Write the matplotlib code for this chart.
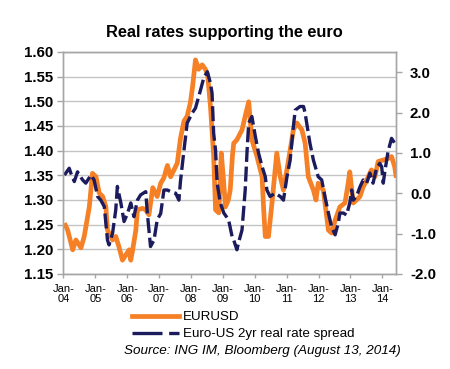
import matplotlib
matplotlib.use('Agg')
import matplotlib.pyplot as plt
from matplotlib.lines import Line2D

plt.rcParams['font.family'] = ['Liberation Sans', 'DejaVu Sans']

# EURUSD (left axis), time as decimal years
eur_t = [2004.03, 2004.13, 2004.29, 2004.39, 2004.55, 2004.65, 2004.81, 2004.91,
         2005.02, 2005.12, 2005.23, 2005.33, 2005.38, 2005.54, 2005.64, 2005.74,
         2005.85, 2005.95, 2006.06, 2006.11, 2006.16, 2006.27, 2006.32, 2006.48,
         2006.58, 2006.68, 2006.80, 2006.94, 2007.05, 2007.15, 2007.26, 2007.36,
         2007.46, 2007.57, 2007.67, 2007.78, 2007.88, 2007.98, 2008.05, 2008.14,
         2008.24, 2008.35, 2008.45, 2008.52, 2008.61, 2008.71, 2008.77, 2008.87,
         2008.95, 2009.02, 2009.08, 2009.17, 2009.23, 2009.30, 2009.34, 2009.44,
         2009.60, 2009.70, 2009.81, 2009.91, 2010.07, 2010.23, 2010.28, 2010.33,
         2010.43, 2010.54, 2010.69, 2010.80, 2010.90, 2011.06, 2011.21, 2011.32,
         2011.48, 2011.58, 2011.68, 2011.84, 2011.92, 2011.99, 2012.15, 2012.31,
         2012.41, 2012.52, 2012.67, 2012.83, 2012.93, 2012.98, 2013.09, 2013.19,
         2013.30, 2013.39, 2013.51, 2013.66, 2013.77, 2013.87, 2014.03, 2014.18,
         2014.29, 2014.39, 2014.44]
eur_v = [1.253, 1.239, 1.199, 1.219, 1.203, 1.226, 1.286, 1.354,
         1.347, 1.314, 1.307, 1.286, 1.239, 1.219, 1.226, 1.205,
         1.178, 1.188, 1.199, 1.178, 1.195, 1.239, 1.280, 1.283,
         1.280, 1.270, 1.325, 1.307, 1.334, 1.345, 1.370, 1.347,
         1.360, 1.375, 1.425, 1.460, 1.470, 1.497, 1.530, 1.584,
         1.565, 1.574, 1.565, 1.555, 1.490, 1.390, 1.280, 1.274,
         1.395, 1.340, 1.286, 1.300, 1.320, 1.390, 1.415, 1.422,
         1.442, 1.470, 1.499, 1.422, 1.388, 1.347, 1.280, 1.226,
         1.226, 1.294, 1.395, 1.347, 1.320, 1.381, 1.442, 1.456,
         1.442, 1.415, 1.347, 1.320, 1.300, 1.334, 1.320, 1.239,
         1.233, 1.259, 1.286, 1.294, 1.334, 1.357, 1.294, 1.300,
         1.307, 1.325, 1.340, 1.361, 1.347, 1.378, 1.381, 1.384,
         1.388, 1.367, 1.345]

# Euro-US 2yr real rate spread (right axis)
spr_t = [2004.03, 2004.18, 2004.23, 2004.34, 2004.44, 2004.60, 2004.70, 2004.86,
         2004.96, 2005.07, 2005.17, 2005.28, 2005.38, 2005.43, 2005.54, 2005.64,
         2005.69, 2005.80, 2005.90, 2006.01, 2006.11, 2006.21, 2006.32, 2006.42,
         2006.58, 2006.63, 2006.73, 2006.84, 2006.94, 2007.05, 2007.15, 2007.26,
         2007.36, 2007.52, 2007.62, 2007.67, 2007.78, 2007.88, 2008.04, 2008.14,
         2008.30, 2008.40, 2008.51, 2008.61, 2008.66, 2008.71, 2008.77, 2008.82,
         2008.92, 2009.03, 2009.18, 2009.29, 2009.34, 2009.44, 2009.49, 2009.60,
         2009.70, 2009.76, 2009.81, 2009.91, 2010.02, 2010.12, 2010.23, 2010.33,
         2010.38, 2010.48, 2010.64, 2010.80, 2010.90, 2011.01, 2011.11, 2011.21,
         2011.27, 2011.42, 2011.53, 2011.58, 2011.73, 2011.84, 2011.99, 2012.10,
         2012.20, 2012.31, 2012.41, 2012.52, 2012.62, 2012.67, 2012.78, 2012.88,
         2012.98, 2013.04, 2013.09, 2013.19, 2013.30, 2013.40, 2013.51, 2013.61,
         2013.71, 2013.82, 2013.92, 2013.98, 2014.03, 2014.08, 2014.18, 2014.29,
         2014.39, 2014.44]
spr_v = [0.45, 0.62, 0.50, 0.29, 0.53, 0.33, 0.25, 0.45,
         0.33, -0.08, -0.17, -0.33, -1.16, -1.28, -0.99, -0.41,
         0.17, -0.24, -0.70, -0.50, -0.24, -0.58, -0.17, -0.04,
         0.04, -0.49, -1.32, -1.16, -0.66, -0.50, 0.08, 0.08,
         0.04, 0.00, -0.17, 0.30, 1.07, 1.74, 1.99, 2.11,
         2.56, 2.86, 3.01, 2.73, 2.48, 1.49, 1.07, 0.25,
         -0.24, -0.49, -0.66, -1.08, -1.16, -1.40, -1.23, -0.91,
         0.08, 1.07, 1.74, 1.90, 1.40, 0.99, 0.66, 0.41,
         0.08, -0.08, 0.00, -0.08, -0.17, 0.41, 0.82, 1.65,
         2.06, 2.15, 2.15, 1.98, 1.24, 0.82, 0.41, 0.33,
         -0.08, -0.49, -0.83, -1.03, -0.74, -0.49, -0.49, -0.54,
         -0.24, 0.08, -0.17, -0.08, 0.16, 0.33, 0.25, 0.50,
         0.25, 0.62, 0.74, 0.66, 0.25, 0.54, 1.03, 1.36,
         1.24, 1.24]

year_ticks = list(range(2004, 2015))
year_labels = ['Jan-\n%02d' % (y % 100) for y in year_ticks]
left_ticks = [1.15, 1.20, 1.25, 1.30, 1.35, 1.40, 1.45, 1.50, 1.55, 1.60]
right_ticks = [-2.0, -1.0, 0.0, 1.0, 2.0, 3.0]

orange = '#F58025'
navy = '#1B1B5E'
grey = '#A6A6A6'

fig = plt.figure(figsize=(4.5, 3.69), dpi=100)
ax = fig.add_axes([0.14, 0.2575, 0.74, 0.6016])

ax.plot(eur_t, eur_v, color=orange, lw=3.4, solid_joinstyle='round',
        solid_capstyle='butt')
ax.set_xlim(2003.985, 2014.43)
ax.set_ylim(1.15, 1.60)
ax.set_yticks(left_ticks)
ax.set_yticklabels(['%.2f' % v for v in left_ticks], fontweight='bold',
                   fontsize=10.8)
ax.set_xticks(year_ticks)
ax.set_xticklabels(year_labels, fontsize=8, linespacing=1.0)
ax.yaxis.grid(True, color='#C4C4C4', lw=1)
ax.set_axisbelow(True)

ax2 = ax.twinx()
ax2.plot(spr_t, spr_v, color=navy, lw=2.4, dashes=(4.5, 1.4))
ax2.set_ylim(-2.0, 3.5)
ax2.set_yticks(right_ticks)
ax2.set_yticklabels(['%.1f' % v for v in right_ticks], fontweight='bold',
                    fontsize=10.8)

for a in (ax, ax2):
    for s in a.spines.values():
        s.set_color(grey)
        s.set_linewidth(1)
    a.tick_params(colors=grey, labelcolor='black', length=4, width=1)
ax.tick_params(axis='y', pad=3)
ax.tick_params(axis='x', length=3, pad=4)
ax2.tick_params(axis='y', pad=6)

fig.text(0.498, 1 - 33 / 369, 'Real rates supporting the euro',
         ha='center', va='center', fontweight='bold', fontsize=11.8)

handles = [Line2D([], [], color=orange, lw=3.4),
           Line2D([], [], color=navy, lw=2.4, dashes=(9, 2))]
fig.legend(handles, ['EURUSD', 'Euro-US 2yr real rate spread'],
           loc='upper left', bbox_to_anchor=(0.293, 1 - 311 / 369),
           frameon=False, fontsize=9.6, handlelength=3.5,
           handletextpad=0.35, labelspacing=0.35, borderpad=0,
           borderaxespad=0)

fig.text(0.276, 1 - 351 / 369, 'Source: ING IM, Bloomberg (August 13, 2014)',
         ha='left', va='center', style='italic', fontsize=9.7)

fig.savefig('out.png', dpi=100)
